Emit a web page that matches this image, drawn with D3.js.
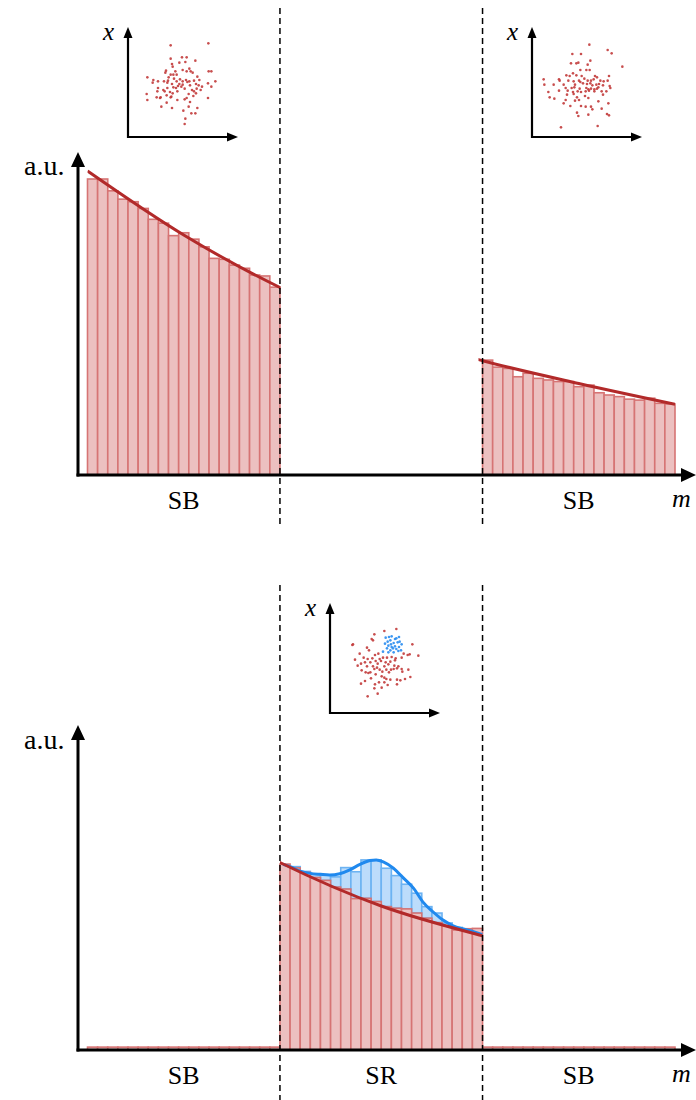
<!DOCTYPE html>
<html>
<head>
<meta charset="utf-8">
<script src="https://cdn.jsdelivr.net/npm/d3@7"></script>
<style>
  body { margin: 0; background: #fff; }
  text { font-family: "Liberation Serif", "DejaVu Serif", serif; fill: #000; }
</style>
</head>
<body>
<div id="chart"></div>
<script>
// histogram bin values (a.u.), one per mass bin; 58 bins over the m axis
const sbLeft = [92.5, 92.5, 88.8, 86.2, 85.4, 83.3, 79.9, 78.7, 74.8, 75.7, 73.7, 71.3, 67.7, 67.4, 65.6, 64.6, 62.5, 62.2, 58.7];
const sbRight = [35.9, 33.7, 33.3, 30.7, 31.8, 30.2, 29.7, 29.2, 29.2, 27.6, 28.1, 25.7, 25.0, 24.5, 23.7, 23.4, 24.0, 22.4, 22.2];
const srBkg = [58.1, 56.9, 55.5, 53.9, 53.0, 50.9, 50.3, 47.3, 47.4, 46.4, 44.8, 44.3, 44.1, 42.8, 41.2, 39.8, 38.8, 37.5, 37.9, 38.0];
const srSig = [0, 0.4, 0.3, 1.0, 1.7, 3.2, 6.7, 8.4, 12.0, 13.0, 12.0, 10.2, 7.7, 6.2, 3.6, 3.0, 0.9, 0.8, 0, 0];
const sbEmpty = [0.9, 0.9, 0.9, 0.9, 0.9, 0.9, 0.9, 0.9, 0.9, 0.9, 0.9, 0.9, 0.9, 0.9, 0.9, 0.9, 0.9, 0.9, 0.9];

// background fit and background+signal fit
const fitM = [0, 9.5, 19, 29, 39, 48.5, 58];
const fitV = [95, 75, 58.6, 45, 35.7, 28.6, 22.1];
const sigM = [19.3, 20.0, 21.0, 22.0, 23.0, 23.9, 24.9, 25.9, 26.9, 27.9, 28.5, 29.2, 30.2, 31.2, 32.2, 33.1, 34.1, 35.1, 36.1, 37.1, 38.1, 39];
const sigV = [58.0, 57.3, 55.9, 55.2, 54.9, 54.7, 55.1, 56.3, 58.0, 59.2, 59.4, 58.8, 56.8, 53.7, 50.5, 46.3, 43.2, 40.6, 38.8, 37.8, 37.0, 36.0];

const regionLabels = ["SB", "SR", "SB"];

// scatter insets, points (inset units, 0..300)
const scatterTL = [[92,22],[205,16],[126,58],[140,58],[92,62],[118,74],[136,72],[166,68],[96,78],[98,86],[148,92],[128,96],[78,98],[76,104],[92,110],[106,100],[140,100],[152,100],[158,104],[206,100],[214,100],[22,118],[172,116],[40,126],[38,134],[54,130],[72,130],[84,128],[102,122],[110,130],[120,124],[128,130],[138,126],[148,130],[162,128],[168,138],[204,136],[226,130],[214,146],[82,134],[96,138],[118,138],[128,140],[142,132],[150,142],[176,142],[186,146],[54,150],[70,156],[82,150],[100,148],[108,150],[114,144],[124,146],[134,152],[156,156],[162,160],[170,152],[182,156],[52,160],[74,160],[90,162],[98,166],[112,160],[146,168],[168,166],[20,168],[22,186],[50,178],[62,178],[80,172],[94,176],[112,186],[134,184],[140,180],[160,174],[204,180],[150,192],[80,194],[64,206],[96,210],[146,206],[172,210],[130,218],[154,226],[166,226],[136,242],[134,258],[92,178],[60,180],[178,126],[86,118],[110,110],[100,110]];
const scatterTR = [[163,20],[112,48],[138,48],[218,36],[230,46],[166,68],[108,76],[124,76],[130,74],[158,80],[262,86],[154,96],[164,96],[136,96],[114,106],[94,112],[104,114],[124,112],[140,114],[180,114],[186,118],[222,114],[26,124],[72,124],[74,128],[100,128],[116,130],[132,128],[136,132],[148,122],[158,128],[168,128],[176,124],[196,128],[206,130],[218,128],[28,140],[56,140],[86,140],[120,140],[144,136],[156,138],[166,136],[172,142],[184,140],[192,138],[204,142],[224,144],[92,150],[110,150],[118,148],[134,152],[154,150],[160,154],[168,152],[178,154],[186,152],[190,148],[226,150],[40,162],[72,158],[98,158],[114,162],[128,160],[138,162],[152,160],[162,158],[178,160],[200,160],[214,160],[204,170],[96,170],[116,168],[150,174],[160,180],[126,178],[120,188],[132,186],[190,190],[220,196],[44,178],[58,182],[92,186],[86,196],[106,204],[138,204],[152,206],[168,206],[172,214],[200,212],[126,224],[130,234],[160,230],[216,228],[222,232],[78,268],[188,264]];
const scatterSRbkg = [[154,12],[118,18],[88,28],[80,42],[84,46],[24,58],[202,58],[66,68],[72,76],[44,86],[90,90],[100,86],[176,86],[188,90],[194,88],[220,92],[30,104],[56,98],[68,102],[82,100],[104,102],[114,98],[126,98],[140,96],[152,100],[170,98],[48,116],[60,112],[76,112],[92,108],[98,116],[108,108],[122,112],[136,110],[150,106],[38,122],[66,124],[84,124],[96,128],[118,124],[130,118],[148,122],[50,136],[62,142],[70,144],[88,132],[104,134],[112,140],[124,134],[138,134],[146,132],[156,130],[160,124],[170,132],[190,134],[76,142],[92,148],[132,142],[172,140],[110,154],[118,158],[124,162],[136,164],[78,160],[60,168],[156,164],[180,162],[166,166],[196,156],[48,176],[90,178],[102,172],[118,172],[128,180],[156,178],[88,190],[110,188],[98,206],[68,214],[22,60]];
const scatterSRsig = [[122,38],[132,36],[140,34],[150,42],[158,52],[164,50],[128,50],[136,46],[146,54],[120,56],[130,62],[138,58],[150,64],[162,66],[170,58],[144,70],[154,72],[126,70],[136,76],[160,78],[168,76],[114,80],[130,82],[146,82],[154,40],[162,36],[140,66]];

const RED = "#b22a2a", RED_FILL = "#ecc0c0", RED_EDGE = "#d67474";
const BLUE = "#2089ee", BLUE_FILL = "#bcdcfb", BLUE_EDGE = "#6db3f2";

const svg = d3.select("#chart").append("svg")
  .attr("width", 696).attr("height", 1100);

const x = d3.scaleLinear().domain([0, 58]).range([87.5, 675]);
const cutLo = 19, cutHi = 39;

function yScaleFor(base) {
  return d3.scaleLinear().domain([0, 100]).range([base, base - 320]);
}

function drawBars(g, y, values, m0, fill, edge, bottoms) {
  g.selectAll(null)
    .data(values)
    .enter().append("rect")
    .attr("x", (d, i) => x(m0 + i))
    .attr("width", x(1) - x(0))
    .attr("y", (d, i) => y((bottoms ? bottoms[i] : 0) + d))
    .attr("height", (d, i) => y(bottoms ? bottoms[i] : 0) - y((bottoms ? bottoms[i] : 0) + d))
    .attr("fill", fill)
    .attr("stroke", edge)
    .attr("stroke-width", 1.6);
}

function drawLine(g, y, ms, vs, lo, hi, color) {
  const pts = ms.map((m, i) => [m, vs[i]]);
  const line = d3.line()
    .x(d => x(d[0]))
    .y(d => y(d[1]))
    .curve(d3.curveMonotoneX);
  const clipId = "c" + Math.round(y(0)) + "_" + lo;
  svg.append("clipPath").attr("id", clipId)
    .append("rect").attr("x", x(lo)).attr("y", 0)
    .attr("width", x(hi) - x(lo)).attr("height", 1100);
  g.append("path")
    .datum(pts)
    .attr("d", line)
    .attr("clip-path", `url(#${clipId})`)
    .attr("fill", "none")
    .attr("stroke", color)
    .attr("stroke-width", 3);
}

function drawAxes(base, top) {
  const g = svg.append("g");
  g.append("line").attr("x1", 78).attr("y1", base + 1.5).attr("x2", 78).attr("y2", top + 12)
    .attr("stroke", "#000").attr("stroke-width", 3);
  g.append("line").attr("x1", 76.5).attr("y1", base).attr("x2", 683).attr("y2", base)
    .attr("stroke", "#000").attr("stroke-width", 3);
  g.append("path").attr("d", `M78,${top} L71,${top + 15} L85,${top + 15} Z`);
  g.append("path").attr("d", `M696,${base} L681,${base - 7} L681,${base + 7} Z`);
}

function drawDashes(y1, y2) {
  [cutLo, cutHi].forEach(c => {
    svg.append("line")
      .attr("x1", x(c)).attr("x2", x(c))
      .attr("y1", y1).attr("y2", y2)
      .attr("stroke", "#000").attr("stroke-width", 1.5)
      .attr("stroke-dasharray", "6,4");
  });
}

function drawLabels(base, labels) {
  const centers = [(0 + cutLo) / 2, (cutLo + cutHi) / 2, (cutHi + 58) / 2];
  labels.forEach((t, i) => {
    if (!t) return;
    svg.append("text").attr("x", x(centers[i])).attr("y", base + 34)
      .attr("text-anchor", "middle").attr("font-size", 26).text(t);
  });
  svg.append("text").attr("x", 672).attr("y", base + 32)
    .attr("font-size", 26).attr("font-style", "italic").text("m");
}

function drawInset(ox, oy, cx, cy, groups) {
  const g = svg.append("g");
  const sx = d3.scaleLinear().domain([0, 300]).range([cx, cx + 100]);
  const sy = d3.scaleLinear().domain([0, 300]).range([cy, cy + 100]);
  groups.forEach(([pts, color]) => {
    g.selectAll(null).data(pts).enter().append("circle")
      .attr("cx", d => sx(d[0])).attr("cy", d => sy(d[1]))
      .attr("r", 1.3).attr("fill", color).attr("fill-opacity", 0.9);
  });
  g.append("line").attr("x1", ox).attr("y1", oy + 1).attr("x2", ox).attr("y2", oy - 100)
    .attr("stroke", "#000").attr("stroke-width", 2.2);
  g.append("line").attr("x1", ox - 1).attr("y1", oy).attr("x2", ox + 100).attr("y2", oy)
    .attr("stroke", "#000").attr("stroke-width", 2.2);
  g.append("path").attr("d", `M${ox},${oy - 110} L${ox - 4.5},${oy - 99} L${ox + 4.5},${oy - 99} Z`);
  g.append("path").attr("d", `M${ox + 110},${oy} L${ox + 99},${oy - 4.5} L${ox + 99},${oy + 4.5} Z`);
  g.append("text").attr("x", ox - 25).attr("y", oy - 97)
    .attr("font-size", 25).attr("font-style", "italic").text("x");
}

// ---- top panel: sidebands only
const yTop = yScaleFor(475);
const gTop = svg.append("g");
drawBars(gTop, yTop, sbLeft, 0, RED_FILL, RED_EDGE);
drawBars(gTop, yTop, sbRight, cutHi, RED_FILL, RED_EDGE);
drawLine(gTop, yTop, fitM, fitV, 0, cutLo + 0.05, RED);
drawLine(gTop, yTop, fitM, fitV, cutHi - 0.4, 58, RED);
drawDashes(8, 528);
drawAxes(475, 152);
svg.append("text").attr("x", 24).attr("y", 175).attr("font-size", 28).text("a.u.");
drawLabels(475, ["SB", "", "SB"]);
drawInset(128, 137, 140, 38, [[scatterTL, "#c23b3b"]]);
drawInset(532, 137, 535, 38, [[scatterTR, "#c23b3b"]]);

// ---- bottom panel: signal region
const yBot = yScaleFor(1050);
const gBot = svg.append("g");
drawBars(gBot, yBot, sbEmpty, 0, RED_FILL, RED_EDGE);
drawBars(gBot, yBot, sbEmpty, cutHi, RED_FILL, RED_EDGE);
drawBars(gBot, yBot, srSig, cutLo, BLUE_FILL, BLUE_EDGE, srBkg);
drawBars(gBot, yBot, srBkg, cutLo, RED_FILL, RED_EDGE);
drawLine(gBot, yBot, sigM, sigV, cutLo, cutHi, BLUE);
drawLine(gBot, yBot, fitM, fitV, cutLo, cutHi + 0.05, RED);
drawDashes(585, 1100);
drawAxes(1050, 725);
svg.append("text").attr("x", 24).attr("y", 749).attr("font-size", 28).text("a.u.");
drawLabels(1050, regionLabels);
drawInset(330, 713, 345, 625, [[scatterSRbkg, "#c23b3b"], [scatterSRsig, "#2a8df0"]]);
</script>
</body>
</html>
